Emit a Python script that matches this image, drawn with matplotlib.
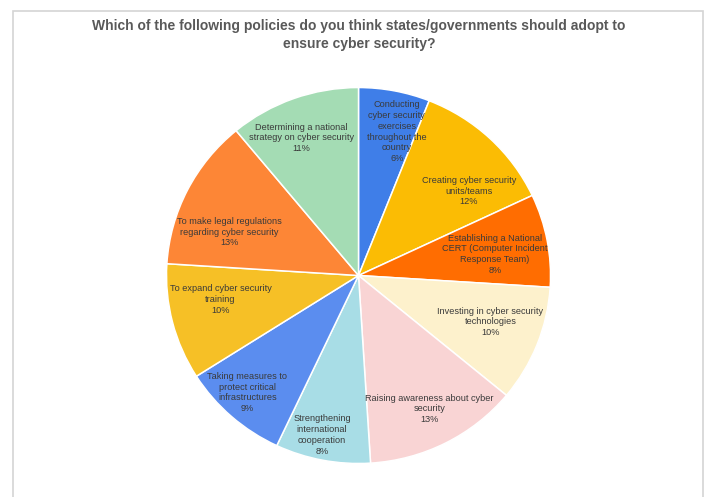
import numpy as np
import matplotlib
matplotlib.use('Agg')
import matplotlib.pyplot as plt
from matplotlib.patches import Rectangle

plt.rcParams['font.family'] = ['Liberation Sans', 'DejaVu Sans']

title = 'Which of the following policies do you think states/governments should adopt to\nensure cyber security?'

policies = ['Conducting\ncyber security\nexercises\nthroughout the\ncountry',
            'Creating cyber security\nunits/teams',
            'Establishing a National\nCERT (Computer Incident\nResponse Team)',
            'Investing in cyber security\ntechnologies',
            'Raising awareness about cyber\nsecurity',
            'Strengthening\ninternational\ncooperation',
            'Taking measures to\nprotect critical\ninfrastructures',
            'To expand cyber security\ntraining',
            'To make legal regulations\nregarding cyber security',
            'Determining a national\nstrategy on cyber security']
shares = [6, 12, 8, 10, 13, 8, 9, 10, 13, 11]

colors = ['#3f7ee8', '#fbbc04', '#ff6d01', '#fdf1cc', '#f9d4d4',
          '#a8dde6', '#5b8def', '#f6c026', '#fd8636', '#a4dcb4']
# label placement: fraction of radius, and clockwise nudge (deg) off the wedge middle
label_r = [0.79, 0.73, 0.72, 0.73, 0.80, 0.87, 0.85, 0.73, 0.71, 0.79]
label_nudge = [3.8, 8.8, 1.8, -1.9, -0.6, 1.8, 1.6, 4.4, -8.0, -2.2]

fig = plt.figure(figsize=(7.04, 4.97), dpi=100)
fig.patch.set_facecolor('white')

# light grey card border
fig.add_artist(Rectangle((12.5 / 704, -0.1), (703 - 12.5) / 704, 1.1 - 10.5 / 497,
                         transform=fig.transFigure, fill=False,
                         edgecolor='#d4d4d4', linewidth=1.2))

fig.text(359 / 704, 1 - 35 / 497, title, ha='center', va='center',
         fontsize=10, fontweight='bold', color='#595959', linespacing=1.3)

ax = fig.add_axes([0.2365, 0.0674, 0.5455, 0.7565])
wedges, _ = ax.pie(shares, colors=colors, startangle=90, counterclock=False,
                   wedgeprops=dict(edgecolor='white', linewidth=1.1))
ax.set_aspect('auto')
ax.set_xlim(-1, 1)
ax.set_ylim(-1, 1)

for w, name, val, r, nd in zip(wedges, policies, shares, label_r, label_nudge):
    ang = np.deg2rad((w.theta1 + w.theta2) / 2 - nd)
    ax.text(r * np.cos(ang), r * np.sin(ang), f'{name}\n{val}%',
            ha='center', va='center', fontsize=6.6, color='#3a3a3a',
            linespacing=1.25)

fig.savefig('out.png', dpi=100)
